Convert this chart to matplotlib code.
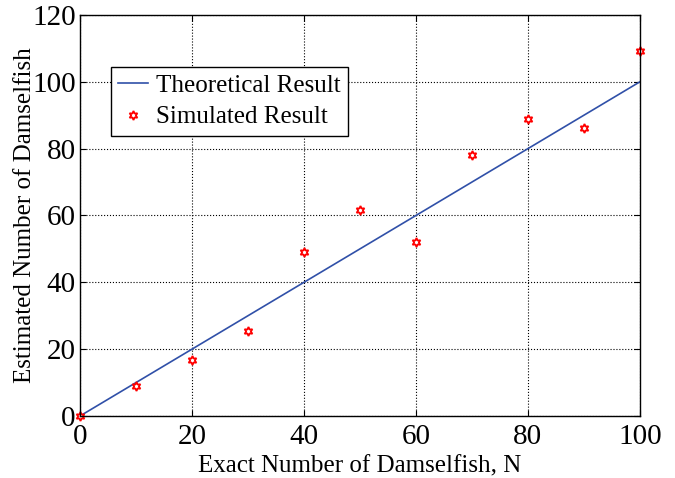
import matplotlib.pyplot as plt

theory_n = [0, 100]
theory_est = [0, 100]

sim_n = [0, 10, 20, 30, 40, 50, 60, 70, 80, 90, 100]
sim_est = [0, 9.0, 16.8, 25.4, 49.1, 61.7, 52.2, 78.1, 88.9, 86.1, 109.1]

plt.rcParams['font.family'] = ['Liberation Serif']
plt.rcParams['font.size'] = 18

fig = plt.figure(figsize=(6.75, 4.78), dpi=100)
ax = fig.add_axes([0.1185, 0.1297, 0.8295, 0.839])

ax.plot(theory_n, theory_est, color='#3050a8', lw=1.2, label='Theoretical Result')
ax.plot(sim_n, sim_est, ls='none', marker=(6, 1, 0), ms=6.5, mfc='white',
        mec='red', mew=1.3, label='Simulated Result', clip_on=False)

ax.set_xlim(0, 100)
ax.set_ylim(0, 120)
ax.set_xticks(range(0, 101, 20))
ax.set_yticks(range(0, 121, 20))
ax.grid(True, color='black', ls=':', lw=0.8)
ax.tick_params(direction='in', length=4, top=True, right=True, labelsize=21)
ax.tick_params(axis='x', pad=6)
ax.tick_params(axis='y', pad=3)
for s in ax.spines.values():
    s.set_linewidth(1.0)

ax.set_xlabel('Exact Number of Damselfish, N', labelpad=4)
ax.set_ylabel('Estimated Number of Damselfish', labelpad=-3)

leg = ax.legend(loc='upper left', bbox_to_anchor=(0.055, 0.870), fancybox=False,
                edgecolor='black', framealpha=1, borderpad=0.3, handlelength=1.2,
                handletextpad=0.3, labelspacing=0.35, borderaxespad=0)
leg.get_frame().set_linewidth(1.0)

fig.savefig('out.png', dpi=100)
